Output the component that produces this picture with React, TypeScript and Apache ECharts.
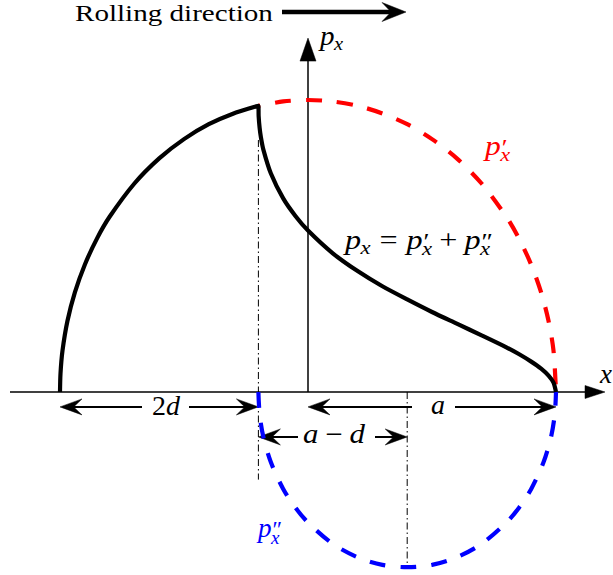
import React, { useEffect, useRef } from "react";
import * as echarts from "echarts";

const W = 613;
const H = 575;

// Curves. x in units of a (half contact length), y in units of p0.
// p'_x : red dashed (drawn from the stick/slip boundary to the trailing edge)
const redX = [-0.2, -0.1, 0, 0.1, 0.2, 0.3, 0.4, 0.5, 0.6, 0.7, 0.8, 0.85, 0.9, 0.94, 0.97, 0.99, 1];
const redY = [0.98, 0.995, 1.0, 0.995, 0.98, 0.954, 0.917, 0.866, 0.8, 0.714, 0.6, 0.527, 0.436, 0.341, 0.243, 0.141, 0];

// p''_x : blue dashed (below the axis)
const blueX = [-0.2, -0.195, -0.18, -0.15, -0.1, -0.05, 0, 0.1, 0.2, 0.3, 0.4, 0.5, 0.6, 0.7, 0.8, 0.85, 0.9, 0.95, 0.98, 0.995, 1];
const blueY = [0, -0.077, -0.154, -0.24, -0.332, -0.397, -0.447, -0.52, -0.566, -0.592, -0.6, -0.592, -0.566, -0.52, -0.447, -0.397, -0.332, -0.24, -0.154, -0.077, 0];

// p_x = p'_x + p''_x : black
const blackX = [-1, -0.998, -0.99, -0.97, -0.94, -0.9, -0.85, -0.8, -0.7, -0.6, -0.5, -0.4, -0.3, -0.2, -0.199, -0.195, -0.19, -0.18, -0.15, -0.1, -0.05, 0, 0.1, 0.2, 0.3, 0.4, 0.5, 0.6, 0.7, 0.8, 0.85, 0.9, 0.94, 0.97, 0.99, 1];
const blackY = [0, 0.063, 0.141, 0.243, 0.341, 0.436, 0.527, 0.6, 0.714, 0.8, 0.866, 0.917, 0.954, 0.98, 0.945, 0.904, 0.873, 0.83, 0.749, 0.663, 0.602, 0.553, 0.475, 0.414, 0.362, 0.317, 0.274, 0.234, 0.194, 0.153, 0.13, 0.104, 0.08, 0.056, 0.032, 0];

// Annotation anchors (data units)
const LEAD = -1;        // -a
const STICK = -0.2;     // -a + 2d
const TRAIL = 1;        // a
const CENTER2 = 0.4;    // d (centre of p''_x)
const DIM_ROW1 = -0.051;
const DIM_ROW2 = -0.154;
const XAXIS_RANGE = [-1.2016, 1.1976];
const YAXIS_TIP = 1.212;
const DASHDOT1 = [0.863, -0.3];
const DASHDOT2 = [0, -0.603];

const X_MIN = -308 / 248;
const X_MAX = 305 / 248;
const Y_MAX = 392 / 292;
const Y_MIN = -183 / 292;

const FAMILY = "Liberation Serif";

let mctx: CanvasRenderingContext2D | null = null;
function measure(t: string, size: number, italic: boolean): number {
  if (!mctx) mctx = document.createElement("canvas").getContext("2d");
  if (!mctx) return t.length * size * 0.5;
  mctx.font = `${italic ? "italic " : ""}${size}px "${FAMILY}"`;
  return mctx.measureText(t).width;
}

function txtStyle(text: string, size: number, italic: boolean, color: string) {
  return {
    text,
    fill: color,
    fontFamily: FAMILY,
    fontSize: size,
    fontStyle: italic ? "italic" : "normal",
    fontWeight: "normal",
    textAlign: "left",
    textVerticalAlign: "middle",
  };
}

type Piece = { t?: string; it?: boolean; sub?: string; sup?: string; pre?: number; post?: number };

function mathText(
  pieces: Piece[],
  o: { x: number; baseline: number; size: number; color: string; align: "left" | "center"; width?: number; z: number }
) {
  const sz = o.size;
  const ss = Math.round(sz * 0.7);
  const ps = Math.round(sz * 0.85);
  const items: { t: string; x: number; b: number; s: number; it: boolean }[] = [];
  let cx = 0;
  for (const p of pieces) {
    cx += (p.pre || 0) * sz;
    if (p.t) {
      items.push({ t: p.t, x: cx, b: 0, s: sz, it: !!p.it });
      cx += measure(p.t, sz, !!p.it);
    }
    let adv = 0;
    if (p.sup) {
      items.push({ t: p.sup, x: cx + 0.03 * sz, b: 0, s: ps, it: false });
      adv = Math.max(adv, measure(p.sup, ps, false) + 0.03 * sz);
    }
    if (p.sub) {
      const sh = p.sup ? 0.24 * sz : 0.18 * sz;
      items.push({ t: p.sub, x: cx - 0.02 * sz, b: sh, s: ss, it: true });
      adv = Math.max(adv, measure(p.sub, ss, true) - 0.02 * sz);
    }
    cx += adv + (p.post || 0) * sz;
  }
  const natural = cx;
  const sx = o.width ? o.width / natural : 1;
  const total = natural * sx;
  const x0 = o.align === "center" ? o.x - total / 2 : o.x;
  return {
    x0,
    total,
    el: {
      type: "group",
      x: x0,
      y: o.baseline,
      scaleX: sx,
      z: o.z,
      children: items.map((it) => ({
        type: "text",
        x: it.x,
        y: it.b - 0.34 * it.s,
        z: o.z,
        style: txtStyle(it.t, it.s, it.it, o.color),
      })),
    },
  };
}

function head(tip: number[], dir: number[], L: number, Wd: number, notch: number, z: number) {
  const [ux, uy] = dir;
  const nx = -uy;
  const ny = ux;
  const bx = tip[0] - ux * L;
  const by = tip[1] - uy * L;
  return {
    type: "polygon",
    z,
    shape: {
      points: [
        [tip[0], tip[1]],
        [bx + (nx * Wd) / 2, by + (ny * Wd) / 2],
        [tip[0] - ux * L * notch, tip[1] - uy * L * notch],
        [bx - (nx * Wd) / 2, by - (ny * Wd) / 2],
      ],
    },
    style: { fill: "#000", stroke: "#000", lineWidth: 0.5 },
  };
}

function line(a: number[], b: number[], w: number, z: number, dash?: number[]) {
  return {
    type: "line",
    z,
    shape: { x1: a[0], y1: a[1], x2: b[0], y2: b[1] },
    style: { stroke: "#000", lineWidth: w, lineDash: dash, lineCap: "butt" },
  };
}

function dimArrow(a: number[], b: number[], z: number) {
  const L = 22, Wd = 16, notch = 0.62;
  const out: any[] = [];
  out.push(line([a[0] + L * 0.5, a[1]], [b[0] - L * 0.5, b[1]], 2, z));
  out.push(head(a, [-1, 0], L, Wd, notch, z));
  out.push(head(b, [1, 0], L, Wd, notch, z));
  return out;
}

export default function App() {
  const ref = useRef<HTMLDivElement>(null);
  useEffect(() => {
    if (!ref.current) return;
    const chart = echarts.init(ref.current, undefined, { renderer: "svg" });
    const zip = (xs: number[], ys: number[]) => xs.map((x, i) => [x, ys[i]]);
    chart.setOption({
      animation: false,
      backgroundColor: "#fff",
      grid: { left: 0, right: 0, top: 0, bottom: 0 },
      xAxis: { type: "value", min: X_MIN, max: X_MAX, show: false },
      yAxis: { type: "value", min: Y_MIN, max: Y_MAX, show: false },
      series: [
        {
          type: "line",
          data: zip(redX, redY),
          showSymbol: false,
          smooth: 0.3,
          z: 3,
          lineStyle: { color: "#ff0000", width: 4.2, type: [16, 15], dashOffset: 14, cap: "butt" },
        },
        {
          type: "line",
          data: zip(blueX, blueY),
          showSymbol: false,
          smooth: 0.3,
          z: 3,
          lineStyle: { color: "#0000ff", width: 4.2, type: [16, 15], dashOffset: 0, cap: "butt" },
        },
        {
          type: "line",
          data: zip(blackX, blackY),
          showSymbol: false,
          smooth: 0.25,
          z: 4,
          lineStyle: { color: "#000", width: 4.2, join: "round", cap: "butt" },
        },
      ],
    });

    const px = (x: number, y: number) => chart.convertToPixel({ gridIndex: 0 }, [x, y]) as number[];
    const g: any[] = [];

    // x axis
    const xa = px(XAXIS_RANGE[0], 0);
    const xt = px(XAXIS_RANGE[1], 0);
    g.push(line(xa, [xt[0] - 18, xt[1]], 1.5, 1));
    g.push(head(xt, [1, 0], 20, 13, 1, 1));
    // y axis
    const ya = px(0, 0);
    const yt = px(0, YAXIS_TIP);
    g.push(line(ya, [yt[0], yt[1] + 20], 1.5, 1));
    g.push(head(yt, [0, -1], 23, 16, 1, 1));

    // dash-dot guides
    g.push(line(px(STICK, DASHDOT1[0]), px(STICK, DASHDOT1[1]), 1, 1, [7, 3, 1.5, 3]));
    g.push(line(px(CENTER2, DASHDOT2[0]), px(CENTER2, DASHDOT2[1]), 1, 1, [7, 3, 1.5, 3]));

    // dimension arrows
    g.push(...dimArrow(px(LEAD, DIM_ROW1), px(STICK, DIM_ROW1), 1));
    g.push(...dimArrow(px(0, DIM_ROW1), px(TRAIL, DIM_ROW1), 1));
    g.push(...dimArrow(px(STICK, DIM_ROW2), px(CENTER2, DIM_ROW2), 1));

    // rolling direction arrow
    g.push(line([282, 12], [395, 12], 4.5, 5));
    g.push(head([406, 12], [1, 0], 24, 19, 0.62, 5));

    // texts
    const roll = measure("Rolling direction", 24, false);
    g.push({
      type: "group",
      x: 75,
      y: 21,
      scaleX: 198 / roll,
      z: 10,
      children: [
        {
          type: "text",
          x: 0,
          y: -0.34 * 24,
          z: 10,
          style: txtStyle("Rolling direction", 24, false, "#000"),
        },
      ],
    });

    const S = 27;
    g.push(mathText([{ t: "p", it: true, sub: "x" }], { x: 320, baseline: 45, size: S, color: "#000", align: "left", width: 23, z: 10 }).el);
    g.push(mathText([{ t: "x", it: true }], { x: 600, baseline: 383, size: S, color: "#000", align: "left", z: 10 }).el);
    g.push(mathText([{ t: "p", it: true, sup: "′", sub: "x" }], { x: 485, baseline: 155, size: S, color: "#ff0000", align: "left", width: 25, z: 10 }).el);
    g.push(mathText([{ t: "p", it: true, sup: "″", sub: "x" }], { x: 258, baseline: 537, size: S, color: "#0000ff", align: "left", width: 24, z: 10 }).el);
    g.push(
      mathText(
        [
          { t: "p", it: true, sub: "x" },
          { t: "=", pre: 0.278, post: 0.278 },
          { t: "p", it: true, sup: "′", sub: "x" },
          { t: "+", pre: 0.222, post: 0.222 },
          { t: "p", it: true, sup: "″", sub: "x" },
        ],
        { x: 345, baseline: 249, size: S, color: "#000", align: "left", width: 148, z: 10 }
      ).el
    );

    const dimLabel = (pieces: Piece[], cx: number, baseline: number, width: number, padL: number, padR: number, lineY: number) => {
      const m = mathText(pieces, { x: cx, baseline, size: S, color: "#000", align: "center", width, z: 10 });
      g.push({
        type: "rect",
        z: 8,
        shape: { x: m.x0 - padL, y: lineY - 5, width: m.total + padL + padR, height: 10 },
        style: { fill: "#fff" },
      });
      g.push(m.el);
    };
    const r1 = px(0, DIM_ROW1)[1];
    const r2 = px(0, DIM_ROW2)[1];
    dimLabel([{ t: "2" }, { t: "d", it: true }], 166, 415, 28, 10, 9, r1);
    dimLabel([{ t: "a", it: true }], 438, 414, 14, 19, 10, r1);
    dimLabel([{ t: "a", it: true }, { t: "−", pre: 0.222, post: 0.222 }, { t: "d", it: true }], 334, 443, 62, 5, 10, r2);

    chart.setOption({ graphic: g });

    return () => chart.dispose();
  }, []);
  return <div ref={ref} style={{ position: "absolute", left: 0, top: 0, width: W, height: H }} />;
}
